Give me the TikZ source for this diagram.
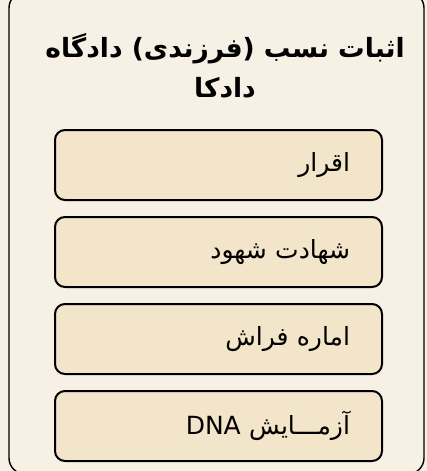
\documentclass[tikz,border=0pt]{standalone}
\usepackage{fontspec}
\newfontfamily\arabicfont[Script=Arabic]{DejaVu Sans}
\TeXXeTstate=1
\usetikzlibrary{positioning}
\definecolor{pagefill}{HTML}{F6F0E5}
\definecolor{proofill}{HTML}{F2E5C9}

\begin{document}
\begin{tikzpicture}[x=1pt, y=1pt,
    proof/.style={draw, line width=2pt, rounded corners=10pt, fill=proofill,
      minimum height=70pt, inner xsep=32pt, text width=263pt, align=right,
      font=\arabicfont\fontsize{25}{30}\selectfont},
    node distance=15pt]
  \useasboundingbox[fill=pagefill] (0,0) rectangle (427,-471);
  \draw[line width=1.4pt, rounded corners=16pt, fill=pagefill] (9,8) rectangle (424,-474);
  \node[font=\arabicfont\bfseries\fontsize{26.5}{40}\selectfont, align=center] (title) at (225,-66)
    {\beginR اثبات نسب (فرزندی) دادگاه\endR\\ \beginR دادکا\endR};
  \node[proof] (p1) at (218.5,-165) {\beginR اقرار\endR};
  \node[proof, below=of p1] (p2) {\beginR شهادت شهود\endR};
  \node[proof, below=of p2] (p3) {\beginR اماره فراش\endR};
  \node[proof, below=of p3] (p4) {\beginR آزمـــایش \beginL DNA\endL\endR};
%  \draw (p1) -- (p2);
\end{tikzpicture}
\end{document}
